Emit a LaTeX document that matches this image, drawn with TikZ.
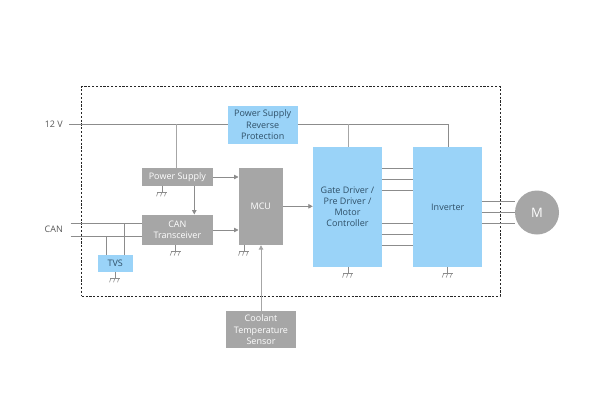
\documentclass[tikz,border=0pt]{standalone}
\usepackage{fontspec}
\setmainfont{Open Sans}
\usetikzlibrary{arrows.meta}
\definecolor{bluebox}{HTML}{9AD3F8}
\definecolor{graybox}{HTML}{A6A6A6}
\definecolor{wireg}{HTML}{8C8C8C}
\definecolor{txtd}{HTML}{2F5068}
\definecolor{txtg}{HTML}{595959}
\tikzset{
  x=1pt,y=-1pt,
  boxbase/.style={anchor=center,inner sep=0pt,align=center,font=\fontsize{9}{11.2}\selectfont},
  bluefill/.style={boxbase,fill=bluebox,text=txtd},
  grayfill/.style={boxbase,fill=graybox,text=white},
  wire/.style={draw=wireg,line width=0.8pt},
  thickwire/.style={draw=graybox,line width=1pt},
  arrowwire/.style={wire,-{Triangle[length=4.5pt,width=4.5pt]}},
  lbl/.style={font=\fontsize{9}{11}\selectfont,text=txtg,inner sep=0pt},
  gnd/.style={draw=wireg,line width=0.6pt},
}
\newcommand{\mybox}[7]{% name, style, x1, y1, x2, y2, text
  \node[#2,minimum width=#5pt-#3pt,minimum height=#6pt-#4pt] (#1) at ({(#3+#5)/2},{(#4+#6)/2}) {#7};}
\newcommand{\gndsym}[3]{% name, x, y of top
  \coordinate (#1) at (#2,#3);
  \draw[gnd] (#1) -- ++(0,6.5) ++(-5,0) -- ++(10,0);
  \foreach \d in {-4,0,4} \draw[gnd] ($(#1)+(\d,6.5)$) -- ++(-1.5,4);
}
\usetikzlibrary{calc}
\begin{document}
\begin{tikzpicture}
\useasboundingbox (0,0) rectangle (600,418);
\fill[white] (0,0) rectangle (600,418);
% frame
\node[draw=black!85,dashed,line width=0.7pt,minimum width=418.3pt,minimum height=209.5pt,inner sep=0pt,dash pattern=on 2.2pt off 1.6pt] (frame) at (290.85,191.35) {};
% boxes
\mybox{psrp}{bluefill}{228}{105.7}{297.5}{143.7}{Power Supply\\Reverse\\Protection}
\mybox{ps}{grayfill}{142}{168.3}{212.7}{185.7}{Power Supply}
\mybox{can}{grayfill}{142}{214.7}{212.7}{245}{CAN\\Transceiver}
\mybox{mcu}{grayfill}{238.7}{168.3}{283}{245}{MCU}
\mybox{tvs}{bluefill}{97.7}{254.7}{132.7}{271.7}{TVS}
\mybox{gate}{bluefill}{313}{146.7}{382}{267}{Gate Driver /\\Pre Driver /\\Motor\\Controller}
\mybox{inv}{bluefill}{413.3}{146.7}{482.3}{267}{Inverter}
\mybox{cool}{grayfill}{225.7}{311.3}{296.3}{348}{Coolant\\Temperature\\Sensor}
\node[circle,fill=graybox,minimum size=44pt,inner sep=0pt,text=white,font=\fontsize{13}{15}\selectfont] (m) at (537,212.5) {M};
% labels
\node[lbl,anchor=east] (v12) at (63,124.3) {12 V};
\node[lbl,anchor=east] (canl) at (63,229.7) {CAN};
% coordinates
\coordinate (s12) at (69,124.3);
\coordinate (can1) at (70.7,223.3);
\coordinate (can2) at (70.7,236.7);
\coordinate (j1) at (176.7,124.3);
\coordinate (j2) at (348,124.3);
\coordinate (j3) at (448.7,124.3);
% 12 V rail
\draw[wire] (s12) -- (s12 -| psrp.west);
\draw[wire] (j3 -| psrp.east) -- (j3) -- (j3 |- inv.north);
\draw[thickwire] (j1) -- (j1 |- ps.north);
\draw[thickwire] (j2) -- (j2 |- gate.north);
% CAN
\draw[wire] (can1) -- (can1 -| can.west);
\draw[wire] (can2) -- (can2 -| can.west);
\coordinate (t1) at (106.3,236.7);
\coordinate (t2) at (124,223.3);
\draw[wire] (t1) -- (t1 |- tvs.north);
\draw[wire] (t2) -- (t2 |- tvs.north);
% arrows
\coordinate (a1) at (212.7,177);
\coordinate (a2) at (212.7,230);
\coordinate (a3) at (194.3,185.7);
\coordinate (a4) at (283,206.3);
\coordinate (a5) at (261,311.3);
\draw[arrowwire] (a1) -- (a1 -| mcu.west);
\draw[arrowwire] (a2) -- (a2 -| mcu.west);
\draw[arrowwire] (a3) -- (a3 |- can.north);
\draw[arrowwire] (a4) -- (a4 -| gate.west);
\draw[arrowwire,draw=graybox,line width=1pt] (a5) -- (a5 |- mcu.south);
% gate-inverter bus
\foreach \y/\n in {168.3/1,179.3/2,190/3,223.3/4,234.3/5,245/6}{
  \coordinate (b\n) at (382,\y);
  \draw[wire] (b\n) -- (b\n -| inv.west);
}
% motor
\foreach \y/\n in {201.7/1,212.7/2,223.3/3}{
  \coordinate (c\n) at (482.3,\y);
  \draw[wire] (c\n) -- (c\n -| m.west);
}
% grounds
\gndsym{g1}{162}{185.7}
\gndsym{g2}{175.7}{245}
\gndsym{g3}{244}{245}
\gndsym{g4}{115}{271.7}
\gndsym{g5}{348}{267}
\gndsym{g6}{447.7}{267}
\end{tikzpicture}
\end{document}
